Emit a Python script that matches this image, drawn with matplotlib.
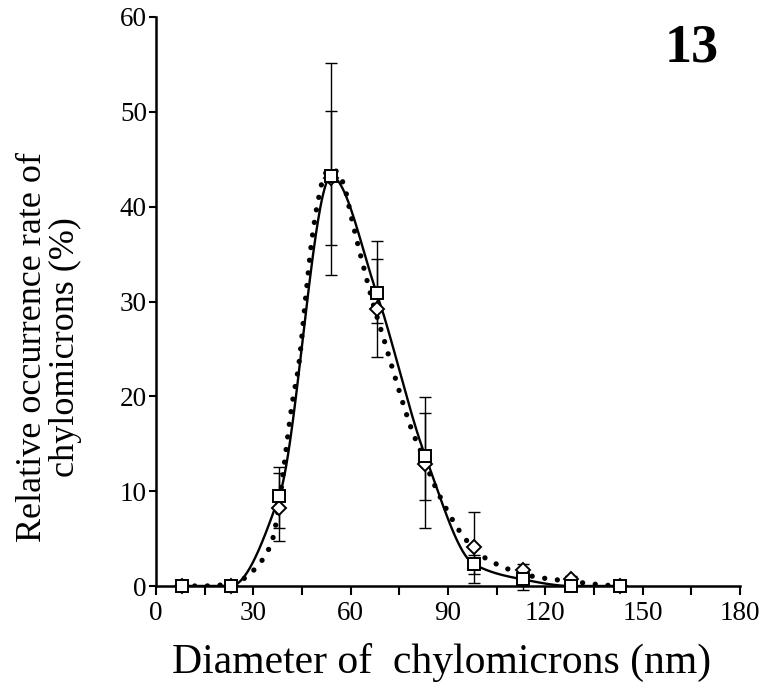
import numpy as np
import matplotlib
matplotlib.use("Agg")
import matplotlib.pyplot as plt

# ---- data ----
diam = [8, 23, 38, 54, 68, 83, 98, 113, 128, 143]

sq_vals = [0, 0, 9.5, 43.2, 30.9, 13.7, 2.3, 0.7, 0, 0]
sq_hi = [0, 0, 12.5, 55.2, 36.4, 19.9, 3.3, 1.8, 0, 0]
sq_lo = [0, 0, 6.1, 32.8, 27.7, 9.1, 1.3, -0.4, 0, 0]

di_vals = [0, 0, 8.2, 43.0, 29.2, 12.9, 4.1, 1.7, 0.7, 0]
di_hi = [0, 0, 11.9, 50.1, 34.5, 18.2, 7.8, 2.3, 1.1, 0]
di_lo = [0, 0, 4.7, 36.0, 24.1, 6.1, 0.35, 1.1, 0.3, 0]

fit_x = [8, 15, 20, 25, 28, 31, 34, 36, 38, 40, 42, 44, 46, 48, 50, 52, 54, 56,
         58, 60, 62, 64, 66, 68, 70, 73, 76, 79, 82, 85, 88, 91, 95, 100, 105,
         110, 115, 120, 125, 130, 135, 143]
fit_y = [0, 0, 0.1, 0.4, 1.0, 2.0, 3.4, 5.0, 8.8, 14.2, 19.3, 23.3, 30.0, 36.4,
         40.7, 43.4, 44.0, 43.6, 42.2, 39.2, 36.3, 33.6, 30.9, 28.5, 26.3, 22.8,
         19.4, 16.3, 13.9, 11.3, 9.1, 7.2, 5.1, 3.3, 2.3, 1.6, 1.1, 0.8, 0.6,
         0.4, 0.2, 0.0]

xticks = [0, 30, 60, 90, 120, 150, 180]
yticks = [0, 10, 20, 30, 40, 50, 60]


def pchip(x, y, xn):
    x = np.asarray(x, float)
    y = np.asarray(y, float)
    h = np.diff(x)
    d = np.diff(y) / h
    n = len(x)
    m = np.zeros(n)
    for k in range(1, n - 1):
        if d[k - 1] * d[k] <= 0:
            m[k] = 0.0
        else:
            w1 = 2 * h[k] + h[k - 1]
            w2 = h[k] + 2 * h[k - 1]
            m[k] = (w1 + w2) / (w1 / d[k - 1] + w2 / d[k])
    idx = np.clip(np.searchsorted(x, xn) - 1, 0, n - 2)
    t = (xn - x[idx]) / h[idx]
    h00 = 2 * t**3 - 3 * t**2 + 1
    h10 = t**3 - 2 * t**2 + t
    h01 = -2 * t**3 + 3 * t**2
    h11 = t**3 - t**2
    return (h00 * y[idx] + h10 * h[idx] * m[idx] + h01 * y[idx + 1]
            + h11 * h[idx] * m[idx + 1])


plt.rcParams['font.family'] = ['Liberation Serif', 'DejaVu Serif']

W, H = 767, 692
fig = plt.figure(figsize=(W / 100, H / 100), dpi=100)
# axes box in pixels: left 156, right 740, top 17, bottom 586
ax = fig.add_axes([156 / W, (H - 586) / H, (740 - 156) / W, (586 - 17) / H])

# dotted fitted curve
xf = np.linspace(fit_x[0], fit_x[-1], 600)
ax.plot(xf, pchip(fit_x, fit_y, xf), color='black', lw=3.8,
        linestyle=(0, (0.01, 2.4)), dash_capstyle='round', zorder=2)

# solid curve through squares
xs = np.linspace(diam[0], diam[-1], 600)
ax.plot(xs, pchip(diam, sq_vals, xs), color='black', lw=1.7, zorder=3)

# error bars
for vals, hi, lo in ((di_vals, di_hi, di_lo), (sq_vals, sq_hi, sq_lo)):
    v = np.asarray(vals)
    yerr = np.vstack([v - np.asarray(lo), np.asarray(hi) - v])
    yerr = np.clip(yerr, 0, None)
    eb = ax.errorbar(diam, v, yerr=yerr, fmt='none', ecolor='black',
                     elinewidth=1.0, capsize=4.5, capthick=1.0, zorder=4)
    for c in eb[1]:
        c.set_clip_on(False)
    for c in eb[2]:
        c.set_clip_on(False)

# markers
ax.plot(diam, di_vals, linestyle='none', marker='D', markersize=7.5,
        markerfacecolor='white', markeredgecolor='black', markeredgewidth=1.4,
        zorder=5, clip_on=False)
ax.plot(diam, sq_vals, linestyle='none', marker='s', markersize=8.8,
        markerfacecolor='white', markeredgecolor='black', markeredgewidth=1.4,
        zorder=6, clip_on=False)

ax.set_xlim(0, 180)
ax.set_ylim(0, 60)
ax.set_xticks(xticks)
ax.set_xticks(np.arange(15, 180, 30), minor=True)
ax.set_yticks(yticks)
ax.tick_params(axis='x', which='both', direction='out', length=6.5, width=1.5,
               labelsize=19.5, pad=4)
ax.tick_params(axis='y', direction='out', length=5, width=1.5,
               labelsize=19.5, pad=1.5)
for s in ('top', 'right'):
    ax.spines[s].set_visible(False)
for s in ('left', 'bottom'):
    ax.spines[s].set_linewidth(1.8)

fig.text(442 / W, 1 - 662 / H, 'Diameter of  chylomicrons (nm)', fontsize=30,
         ha='center', va='center')
fig.text(49 / W, 1 - 347 / H, 'Relative occurrence rate of\nchylomicrons (%)',
         fontsize=26, rotation=90, ha='center', va='center',
         multialignment='center', linespacing=1.02)

fig.text(692 / W, 1 - 49 / H, '13', fontsize=39, fontweight='bold',
         ha='center', va='center')

fig.savefig('out.png', dpi=100)
